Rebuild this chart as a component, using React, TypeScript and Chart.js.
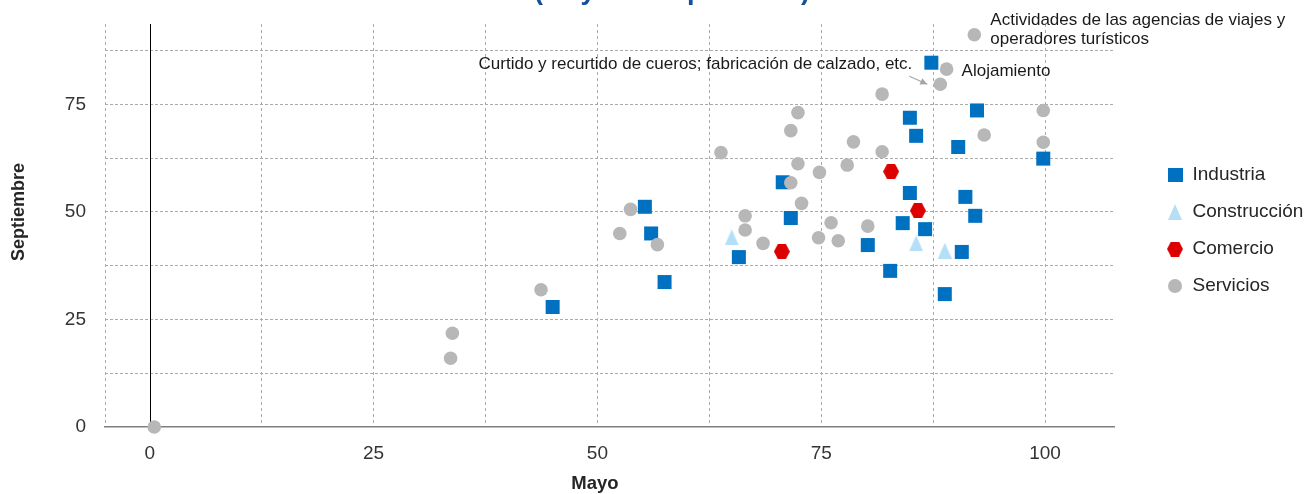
import { useEffect, useRef } from 'react';
import { Chart, registerables } from 'chart.js';

Chart.register(...registerables);

// ---- data (x = Mayo, y = Septiembre) ----
const seriesNames = ['Industria', 'Construcción', 'Comercio', 'Servicios'];

const industria: [number, number][] = [
  [87.3, 84.7], [84.9, 71.9], [92.4, 73.6], [85.6, 67.7], [90.3, 65.1], [99.8, 62.4],
  [70.7, 56.9], [84.9, 54.4], [91.1, 53.5], [55.3, 51.2], [71.6, 48.6], [92.2, 49.1],
  [84.1, 47.4], [86.6, 46.0], [56.0, 45.0], [80.2, 42.3], [65.8, 39.5], [90.7, 40.7],
  [82.7, 36.3], [57.5, 33.7], [88.8, 30.9], [45.0, 27.9],
];

const construccion: [number, number][] = [
  [65.0, 44.1], [85.6, 42.7], [88.8, 41.0],
];

const comercio: [number, number][] = [
  [82.8, 59.4], [85.8, 50.3], [70.6, 40.8],
];

const servicios: [number, number][] = [
  [92.1, 91.2], [89.0, 83.2], [88.3, 79.7], [81.8, 77.4], [72.4, 73.1], [99.8, 73.6],
  [71.6, 68.9], [93.2, 67.9], [99.8, 66.2], [78.6, 66.3], [63.8, 63.8], [81.8, 64.0],
  [72.4, 61.2], [77.9, 60.9], [74.8, 59.2], [71.6, 56.8], [72.8, 52.0], [53.7, 50.6],
  [66.5, 49.1], [76.1, 47.5], [80.2, 46.7], [66.5, 45.8], [52.5, 45.0], [74.7, 44.0],
  [76.9, 43.3], [56.7, 42.4], [68.5, 42.7], [43.7, 31.9], [33.8, 21.8], [33.6, 16.0],
  [0.5, 0.0],
];

const xMin = -5;
const xMax = 107.7;
const yMin = 0;
const yMax = 93.7;
const xTickValues = [-5, 0, 12.5, 25, 37.5, 50, 62.5, 75, 87.5, 100, 107.7];
const yTickValues = [0, 12.5, 25, 37.5, 50, 62.5, 75, 87.5, 93.7];
const labeledTicks = [0, 25, 50, 75, 100];

const titleText = '(Mayo vs septiembre)';
const xTitle = 'Mayo';
const yTitle = 'Septiembre';

const annotations = [
  { lines: ['Actividades de las agencias de viajes y', 'operadores turísticos'], anchor: [92.1, 91.2], dx: 16, dy: -14, align: 'left', arrow: null },
  { lines: ['Alojamiento'], anchor: [89.0, 83.2], dx: 15, dy: 2.5, align: 'left', arrow: null },
  { lines: ['Curtido y recurtido de cueros; fabricación de calzado, etc.'], anchor: [88.3, 79.7], dx: -28, dy: -19.5, align: 'right', arrow: [-31, -8, -13, 0] },
];

// ---- styles ----
const FONT = "'Liberation Sans', Arial, sans-serif";
const colors = {
  industria: '#0070c0',
  construccion: '#b4dff7',
  comercio: '#dc0000',
  servicios: '#b7b7b7',
  grid: '#ababab',
  text: '#262626',
  title: '#15509c',
};

function makeIcon(kind: string, color: string): HTMLCanvasElement {
  const c = document.createElement('canvas');
  let w = 14, h = 14;
  if (kind === 'triangle') { w = 14; h = 16; }
  if (kind === 'hexagon') { w = 16; h = 15; }
  if (kind === 'square') { w = 15; h = 14; }
  c.width = w; c.height = h;
  const g = c.getContext('2d')!;
  g.fillStyle = color;
  g.beginPath();
  if (kind === 'square') {
    g.rect(0, 0, w, h);
  } else if (kind === 'circle') {
    g.arc(w / 2, h / 2, w / 2, 0, Math.PI * 2);
  } else if (kind === 'triangle') {
    g.moveTo(w / 2, 0); g.lineTo(w, h); g.lineTo(0, h); g.closePath();
  } else if (kind === 'hexagon') {
    g.moveTo(0, h / 2); g.lineTo(w * 0.25, 0); g.lineTo(w * 0.75, 0);
    g.lineTo(w, h / 2); g.lineTo(w * 0.75, h); g.lineTo(w * 0.25, h); g.closePath();
  }
  g.fill();
  return c;
}

const overlayPlugin = {
  id: 'overlay',
  beforeDatasetsDraw(chart: any) {
    const { ctx, chartArea, scales } = chart;
    const x0 = Math.round(scales.x.getPixelForValue(0)) + 0.5;
    ctx.save();
    ctx.strokeStyle = '#000';
    ctx.lineWidth = 1;
    ctx.beginPath();
    ctx.moveTo(x0, chartArea.top);
    ctx.lineTo(x0, chartArea.bottom);
    ctx.stroke();
    ctx.restore();
  },
  afterDraw(chart: any) {
    const { ctx, scales } = chart;
    ctx.save();
    // title (cut off at top as in the source)
    ctx.fillStyle = colors.title;
    ctx.font = `bold 27px ${FONT}`;
    ctx.textAlign = 'center';
    ctx.textBaseline = 'alphabetic';
    ctx.fillText(titleText, 672, -1.5);
    // axis titles
    ctx.fillStyle = colors.text;
    ctx.font = `bold 18.5px ${FONT}`;
    ctx.textBaseline = 'middle';
    ctx.fillText(xTitle, 595, 484);
    ctx.save();
    ctx.translate(19, 212);
    ctx.rotate(-Math.PI / 2);
    ctx.font = `bold 18px ${FONT}`;
    ctx.fillText(yTitle, 0, 0);
    ctx.restore();
    // annotations
    ctx.font = `17px ${FONT}`;
    ctx.fillStyle = '#1a1a1a';
    for (const a of annotations) {
      const px = scales.x.getPixelForValue(a.anchor[0]);
      const py = scales.y.getPixelForValue(a.anchor[1]);
      ctx.textAlign = a.align as CanvasTextAlign;
      a.lines.forEach((line, i) => {
        ctx.fillText(line, px + a.dx, py + a.dy + i * 19);
      });
      if (a.arrow) {
        const [x1, y1, x2, y2] = a.arrow;
        const sx = px + x1, sy = py + y1, ex = px + x2, ey = py + y2;
        ctx.strokeStyle = '#a6a6a6';
        ctx.fillStyle = '#a6a6a6';
        ctx.lineWidth = 1.2;
        ctx.beginPath();
        ctx.moveTo(sx, sy);
        ctx.lineTo(ex, ey);
        ctx.stroke();
        const ang = Math.atan2(ey - sy, ex - sx);
        const hl = 7, hw = 3.5;
        ctx.beginPath();
        ctx.moveTo(ex, ey);
        ctx.lineTo(ex - hl * Math.cos(ang) + hw * Math.sin(ang), ey - hl * Math.sin(ang) - hw * Math.cos(ang));
        ctx.lineTo(ex - hl * Math.cos(ang) - hw * Math.sin(ang), ey - hl * Math.sin(ang) + hw * Math.cos(ang));
        ctx.closePath();
        ctx.fill();
        ctx.fillStyle = '#1a1a1a';
      }
    }
    ctx.restore();
  },
};

export default function App() {
  const ref = useRef<HTMLCanvasElement | null>(null);

  useEffect(() => {
    if (!ref.current) return;
    const toPts = (arr: [number, number][]) => arr.map(([x, y]) => ({ x, y }));
    const triangleImg = makeIcon('triangle', colors.construccion);
    const hexagonImg = makeIcon('hexagon', colors.comercio);
    const legendIcons = [
      makeIcon('square', colors.industria),
      makeIcon('triangle', colors.construccion),
      makeIcon('hexagon', colors.comercio),
      makeIcon('circle', colors.servicios),
    ];

    const chart = new Chart(ref.current, {
      type: 'scatter',
      data: {
        datasets: [
          { label: seriesNames[0], data: toPts(industria), pointStyle: 'rect', pointRadius: 9.9, pointHoverRadius: 9.9, backgroundColor: colors.industria, borderWidth: 0, order: 3, clip: false },
          { label: seriesNames[1], data: toPts(construccion), pointStyle: triangleImg, pointRadius: 8, backgroundColor: colors.construccion, borderWidth: 0, order: 2, clip: false },
          { label: seriesNames[2], data: toPts(comercio), pointStyle: hexagonImg, pointRadius: 8, backgroundColor: colors.comercio, borderWidth: 0, order: 1, clip: false },
          { label: seriesNames[3], data: toPts(servicios), pointStyle: 'circle', pointRadius: 6.8, pointHoverRadius: 6.8, backgroundColor: colors.servicios, borderWidth: 0, order: 0, clip: false },
        ] as any,
      },
      options: {
        animation: false,
        responsive: false,
        events: [],
        layout: { padding: { top: 24, left: 0, right: 0, bottom: 0 } },
        scales: {
          x: {
            type: 'linear',
            min: xMin,
            max: xMax,
            afterBuildTicks: (s: any) => { s.ticks = xTickValues.map((v) => ({ value: v })); },
            afterFit: (s: any) => { s.height = 67; s.paddingLeft = 0; s.paddingRight = 0; },
            ticks: {
              autoSkip: false,
              maxRotation: 0,
              padding: 15,
              color: '#333',
              font: { family: FONT, size: 19 },
              callback: (v: any) => (labeledTicks.includes(Number(v)) ? String(v) : ''),
            },
            grid: {
              drawTicks: false,
              lineWidth: 1,
              color: (c: any) => (c.tick && (c.tick.value === 0 || c.tick.value === xMax) ? 'rgba(0,0,0,0)' : colors.grid),
            },
            border: { display: true, color: '#7f7f7f', width: 1.5, dash: [3, 3] },
          },
          y: {
            type: 'linear',
            min: yMin,
            max: yMax,
            afterBuildTicks: (s: any) => { s.ticks = yTickValues.map((v) => ({ value: v })); },
            afterFit: (s: any) => { s.width = 105; s.paddingTop = 0; s.paddingBottom = 0; },
            ticks: {
              autoSkip: false,
              padding: 19,
              color: '#333',
              font: { family: FONT, size: 19 },
              callback: (v: any) => (labeledTicks.includes(Number(v)) ? String(v) : ''),
            },
            grid: {
              drawTicks: false,
              lineWidth: 1,
              color: (c: any) => (c.tick && (c.tick.value === 0 || c.tick.value === yMax) ? 'rgba(0,0,0,0)' : colors.grid),
            },
            border: { display: false, dash: [3, 2] },
          },
          y2: {
            type: 'linear',
            position: 'right',
            display: true,
            grid: { display: false, drawOnChartArea: false },
            ticks: { display: false },
            border: { display: false },
            afterFit: (s: any) => { s.width = 35; s.paddingTop = 0; s.paddingBottom = 0; },
          },
        } as any,
        plugins: {
          tooltip: { enabled: false },
          title: { display: false },
          legend: {
            position: 'right',
            fullSize: false,
            maxWidth: 157,
            align: 'center',
            title: { display: true, text: '', padding: 0, font: { size: 10, lineHeight: 1 } },
            labels: {
              usePointStyle: true,
              boxWidth: 16,
              boxHeight: 16,
              padding: 18,
              color: colors.text,
              font: { family: FONT, size: 19 },
              generateLabels: (ch: any) => {
                const items = Chart.defaults.plugins.legend.labels.generateLabels(ch);
                return items
                  .sort((a: any, b: any) => a.datasetIndex - b.datasetIndex)
                  .map((it: any) => ({ ...it, pointStyle: legendIcons[it.datasetIndex], rotation: 0 }));
              },
            },
          } as any,
        },
      },
      plugins: [overlayPlugin],
    });
    return () => chart.destroy();
  }, []);

  return (
    <div style={{ position: 'fixed', left: 0, top: 0, width: 1306, height: 494, background: '#fff' }}>
      <canvas ref={ref} width={1306} height={494} style={{ display: 'block', width: 1306, height: 494 }} />
    </div>
  );
}
